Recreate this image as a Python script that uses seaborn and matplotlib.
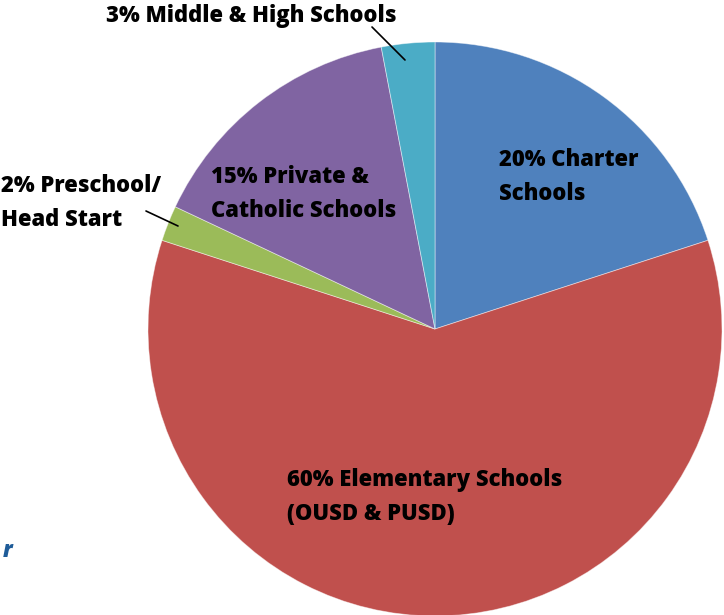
import matplotlib
matplotlib.use("Agg")
import matplotlib.pyplot as plt
import seaborn as sns

categories = ["20% Charter\nSchools", "60% Elementary Schools\n(OUSD & PUSD)",
              "2% Preschool/\nHead Start", "15% Private &\nCatholic Schools",
              "3% Middle & High Schools"]
values = [20, 60, 2, 15, 3]
colors = ["#4F81BD", "#C0504D", "#9BBB59", "#8064A2", "#4BACC6"]

sns.set_theme(style="white")
plt.rcParams['font.family'] = ['Open Sans', 'DejaVu Sans']

W, H = 724, 615
fig = plt.figure(figsize=(W / 100, H / 100), dpi=100)
ax = fig.add_axes([0, 0, 1, 1])

cx, cy, r = 435, H - 329, 287
ax.pie(values, colors=sns.color_palette(colors), startangle=90, counterclock=False,
       center=(cx, cy), radius=r, frame=True,
       wedgeprops=dict(linewidth=0.6, edgecolor="#ffffff80"))
ax.set_xlim(0, W)
ax.set_ylim(0, H)
ax.set_aspect("equal")
ax.axis("off")

fs = 15.8
# label positions (left x, first-line center y in pixels from top)
label_pos = [(499, 160), (287, 480), (1, 186), (211, 177), (106, 16)]
gap = 34
for text, (x, y) in zip(categories, label_pos):
    for i, line in enumerate(text.split("\n")):
        ax.text(x, H - (y + i * gap), line, ha="left", va="center",
                fontsize=fs, fontweight=800, color="black")

# leader lines
ax.plot([372, 405], [H - 27, H - 60], color="black", lw=1.2)
ax.plot([146, 178], [H - 211, H - 226], color="black", lw=1.2)

ax.text(3, H - 551, "r", ha="left", va="center", fontsize=fs, fontweight=800,
        fontstyle="italic", color="#1F5C99")

fig.savefig("out.png", dpi=100)
